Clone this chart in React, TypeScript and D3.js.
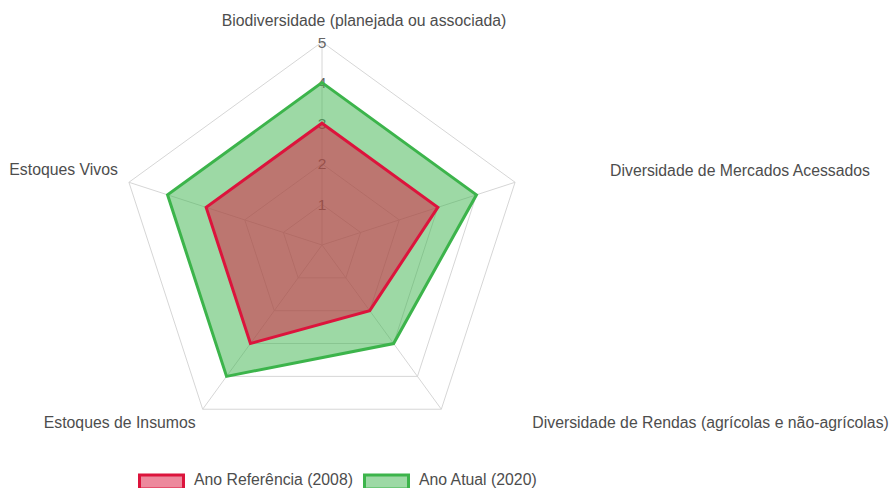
import React, { useEffect, useRef } from "react";
import * as d3 from "d3";

// axes of the radar
const categories = [
  "Biodiversidade (planejada ou associada)",
  "Diversidade de Mercados Acessados",
  "Diversidade de Rendas (agrícolas e não-agrícolas)",
  "Estoques de Insumos",
  "Estoques Vivos",
];

// series values
const referencia2008 = [3, 3, 2, 3, 3];
const atual2020 = [4, 4, 3, 4, 4];

const tickValues = [1, 2, 3, 4, 5];

const seriesNames = ["Ano Referência (2008)", "Ano Atual (2020)"];

// label placement relative to each outer vertex: [dx, dy, anchor]
const labelOffsets: [number, number, string][] = [
  [42, -16, "middle"],
  [95, -6.5, "start"],
  [91, 18.5, "start"],
  [-7, 19, "end"],
  [-11, -7, "end"],
];

const W = 892;
const H = 488;
const cx = 322;
const cy = 245;
const R = 203;
const FONT = "'Liberation Sans', Arial, Helvetica, sans-serif";

function RadarChart() {
  const svgRef = useRef<SVGSVGElement>(null);

  useEffect(() => {
    const svg = d3.select(svgRef.current);
    svg.selectAll("*").remove();

    const rScale = d3.scaleLinear().domain([0, 5]).range([0, R]);
    const angle = d3
      .scalePoint<number>()
      .domain(d3.range(categories.length))
      .range([0, 2 * Math.PI * (categories.length - 1) / categories.length]);

    const pt = (i: number, v: number): [number, number] => {
      const a = (angle(i) as number) - Math.PI / 2;
      return [cx + rScale(v) * Math.cos(a), cy + rScale(v) * Math.sin(a)];
    };

    const g = svg.append("g");

    // grid rings
    g.selectAll(".ring")
      .data(tickValues)
      .join("polygon")
      .attr("class", "ring")
      .attr("points", (t) => categories.map((_, i) => pt(i, t).join(",")).join(" "))
      .attr("fill", "none")
      .attr("stroke", "#d6d6d6")
      .attr("stroke-width", 1);

    // angle lines
    g.selectAll(".spoke")
      .data(categories)
      .join("line")
      .attr("class", "spoke")
      .attr("x1", cx)
      .attr("y1", cy)
      .attr("x2", (_, i) => pt(i, 5)[0])
      .attr("y2", (_, i) => pt(i, 5)[1])
      .attr("stroke", "#d6d6d6")
      .attr("stroke-width", 1);

    // tick labels
    g.selectAll(".tick")
      .data(tickValues)
      .join("text")
      .attr("class", "tick")
      .attr("x", cx)
      .attr("y", (t) => cy - rScale(t))
      .attr("dy", "0.36em")
      .attr("text-anchor", "middle")
      .attr("font-family", FONT)
      .attr("font-size", 15.5)
      .attr("fill", "#666")
      .text((t) => t);

    const line = d3
      .line<number>()
      .x((v, i) => pt(i, v)[0])
      .y((v, i) => pt(i, v)[1])
      .curve(d3.curveLinearClosed);

    const datasets = [
      { values: atual2020, stroke: "rgb(60,180,75)", fill: "rgba(60,180,75,0.5)" },
      { values: referencia2008, stroke: "rgb(220,20,60)", fill: "rgba(220,20,60,0.5)" },
    ];

    g.selectAll(".area")
      .data(datasets)
      .join("path")
      .attr("class", "area")
      .attr("d", (d) => line(d.values))
      .attr("fill", (d) => d.fill)
      .attr("stroke", (d) => d.stroke)
      .attr("stroke-width", 3)
      .attr("stroke-linejoin", "miter");

    // point labels
    g.selectAll(".plabel")
      .data(categories)
      .join("text")
      .attr("class", "plabel")
      .attr("x", (_, i) => pt(i, 5)[0] + labelOffsets[i][0])
      .attr("y", (_, i) => pt(i, 5)[1] + labelOffsets[i][1])
      .attr("text-anchor", (_, i) => labelOffsets[i][2])
      .attr("font-family", FONT)
      .attr("font-size", 15.8)
      .attr("fill", "#4d4d4d")
      .text((d) => d);

    // legend
    const legendColors = [datasets[1], datasets[0]];
    const legendX = [138, 363];
    const lg = svg
      .selectAll(".legend")
      .data(seriesNames)
      .join("g")
      .attr("class", "legend")
      .attr("transform", (_, i) => `translate(${legendX[i]}, 473.5)`);
    lg.append("rect")
      .attr("x", 1.5)
      .attr("y", 1.5)
      .attr("width", 44)
      .attr("height", 14)
      .attr("fill", (_, i) => legendColors[i].fill)
      .attr("stroke", (_, i) => legendColors[i].stroke)
      .attr("stroke-width", 3);
    lg.append("text")
      .attr("x", 56)
      .attr("y", 11)
      .attr("font-family", FONT)
      .attr("font-size", 15.8)
      .attr("fill", "#4d4d4d")
      .text((d) => d);
  }, []);

  return <svg ref={svgRef} width={W} height={H} style={{ display: "block" }} />;
}

export default function App() {
  return (
    <div style={{ position: "absolute", left: 0, top: 0, background: "#fff" }}>
      <RadarChart />
    </div>
  );
}
